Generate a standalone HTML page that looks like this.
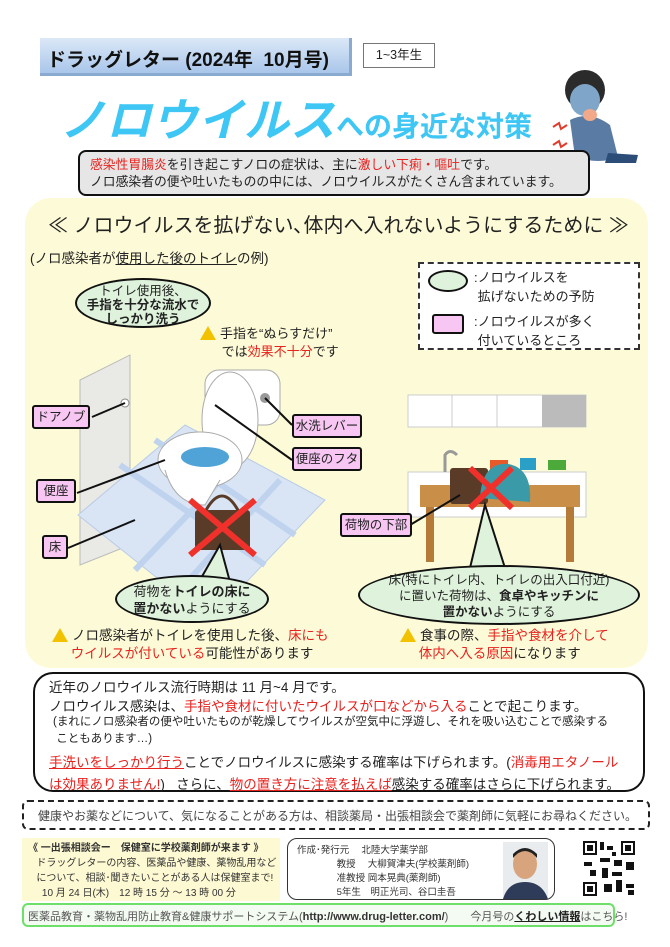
<!DOCTYPE html>
<html><head><meta charset="utf-8">
<style>
*{margin:0;padding:0;box-sizing:border-box}
body{width:670px;height:947px;background:#fff;position:relative;overflow:hidden;font-family:"Liberation Sans","Noto Sans CJK JP",sans-serif;color:#222}
.a{position:absolute;white-space:nowrap}
.r{color:#e8231f}
.pk{position:absolute;background:#f7c6f2;border:2.5px solid #111;border-radius:3px;font-size:12.5px;line-height:20px;text-align:center}
.gb{position:absolute;background:#dff3dc;border:2.5px solid #111;border-radius:50%;text-align:center;font-size:13px;line-height:17px}
.warn{display:inline-block;width:0;height:0;border-left:8px solid transparent;border-right:8px solid transparent;border-bottom:14px solid #f2c200;vertical-align:-2px;margin-right:4px;position:relative}
</style></head><body>

<!-- header -->
<div class="a" style="left:40px;top:38px;width:312px;height:38px;background:linear-gradient(#dbe8f7,#a9c6ea);border-right:3px solid #8aaad0;border-bottom:3px solid #8aaad0"></div>
<div class="a" style="left:47px;top:45px;font-size:19px;font-weight:bold;color:#111">ドラッグレター (2024年&nbsp; 10月号)</div>
<div class="a" style="left:363px;top:43px;width:72px;height:25px;border:1px solid #777;font-size:12.5px;line-height:23px;text-align:center">1~3年生</div>

<div class="a" style="left:60px;top:84px;font-size:45px;font-weight:bold;color:#3ec6f4;font-style:italic;letter-spacing:1px">ノロウイルス<span style="font-size:28px;font-style:normal;letter-spacing:0">への身近な対策</span></div>

<!-- person -->
<svg class="a" style="left:550px;top:65px" width="90" height="105">
<circle cx="35" cy="25" r="20" fill="#2b2b2b"/>
<ellipse cx="35" cy="35" rx="15" ry="16" fill="#7fa6c8"/>
<path d="M20 55 Q40 45 60 60 L68 92 Q50 100 25 92 Z" fill="#5a7ca4"/>
<ellipse cx="40" cy="50" rx="7" ry="6" fill="#f1a98a"/>
<path d="M58 88 L88 90 L86 98 L55 98 Z" fill="#2c4d78"/>
<path d="M3 62 l6 -4 l2 6 l6 -4 M3 80 l6 -4 l2 6 l6 -4" stroke="#e43a2a" stroke-width="2" fill="none"/>
</svg>

<!-- gray box -->
<div class="a" style="left:78px;top:150px;width:512px;height:46px;background:#e6e6e6;border:2.5px solid #111;border-radius:8px"></div>
<div class="a" style="left:90px;top:156px;font-size:12.8px;line-height:17px"><span class="r">感染性胃腸炎</span>を引き起こすノロの症状は、主に<span class="r">激しい下痢・嘔吐</span>です。<br>ノロ感染者の便や吐いたものの中には、ノロウイルスがたくさん含まれています。</div>

<!-- yellow panel -->
<div class="a" style="left:25px;top:198px;width:623px;height:470px;background:#fdfbd7;border-radius:26px"></div>
<div class="a" style="left:48px;top:209px;font-size:20px">≪ ノロウイルスを拡げない､体内へ入れないようにするために ≫</div>
<div class="a" style="left:30px;top:247px;font-size:13.5px">(ノロ感染者が<u>使用した後のトイレ</u>の例)</div>

<!-- legend -->
<div class="a" style="left:418px;top:262px;width:222px;height:88px;border:2px dashed #333;background:#fff"></div>
<div class="a" style="left:428px;top:270px;width:40px;height:22px;background:#dff3dc;border:2.5px solid #111;border-radius:50%"></div>
<div class="a" style="left:474px;top:268px;font-size:13px;line-height:19px">:ノロウイルスを<br>&nbsp;拡げないための予防</div>
<div class="a" style="left:432px;top:314px;width:32px;height:20px;background:#f7c6f2;border:2.5px solid #111;border-radius:3px"></div>
<div class="a" style="left:474px;top:312px;font-size:13px;line-height:19px">:ノロウイルスが多く<br>&nbsp;付いているところ</div>

<!-- toilet scene -->
<svg class="a" style="left:25px;top:320px" width="340" height="320">
<polygon points="55,60 105,35 105,225 55,245" fill="#e9e9e6" stroke="#bbb"/>
<polygon points="53,195 160,105 300,180 185,300" fill="#d9e5f5" stroke="#b9cbe6"/>
<path d="M95 145 L240 245 M130 120 L270 215 M110 250 L215 140 M150 275 L255 160" stroke="#bfd2ee" stroke-width="6"/>
<rect x="180" y="50" width="75" height="55" rx="14" fill="#fff" stroke="#aaa"/>
<ellipse cx="205" cy="100" rx="28" ry="48" fill="#fff" stroke="#aaa"/>
<ellipse cx="175" cy="140" rx="42" ry="28" fill="#fff" stroke="#aaa"/>
<ellipse cx="180" cy="137" rx="24" ry="10" fill="#4fa3d6"/>
<path d="M140 150 Q150 185 180 185 L195 160" fill="#fff" stroke="#aaa"/>
<circle cx="100" cy="83" r="4" fill="#fff" stroke="#888"/>
<circle cx="240" cy="78" r="5" fill="#999"/>
<rect x="170" y="190" width="55" height="40" rx="3" fill="#5a3b28"/>
<path d="M180 192 Q197 160 214 192" stroke="#5a3b28" stroke-width="3" fill="none"/>
<path d="M165 180 L230 235 M230 180 L165 235" stroke="#f0312b" stroke-width="6"/>
<line x1="67" y1="97" x2="100" y2="83" stroke="#111" stroke-width="2"/>
<line x1="267" y1="105" x2="240" y2="78" stroke="#111" stroke-width="2"/>
<line x1="267" y1="140" x2="190" y2="85" stroke="#111" stroke-width="2"/>
<line x1="52" y1="173" x2="140" y2="140" stroke="#111" stroke-width="2"/>
<line x1="43" y1="228" x2="110" y2="200" stroke="#111" stroke-width="2"/>
<polygon points="175,260 195,225 205,262" fill="#dff3dc" stroke="#111" stroke-width="2"/>
</svg>

<div class="gb" style="left:75px;top:278px;width:136px;height:50px;padding-top:4px;font-size:12.5px;line-height:14px">トイレ使用後、<br><b>手指を十分な流水で<br>しっかり洗う</b></div>
<div class="a" style="left:200px;top:325px;font-size:13px;line-height:18px"><span class="warn"></span>手指を“ぬらすだけ”<br>&nbsp;&nbsp;&nbsp;&nbsp;&nbsp;&nbsp;では<span class="r">効果不十分</span>です</div>

<div class="pk" style="left:32px;top:405px;width:58px">ドアノブ</div>
<div class="pk" style="left:292px;top:414px;width:70px">水洗レバー</div>
<div class="pk" style="left:292px;top:447px;width:70px">便座のフタ</div>
<div class="pk" style="left:36px;top:479px;width:40px">便座</div>
<div class="pk" style="left:42px;top:535px;width:26px">床</div>

<div class="gb" style="left:115px;top:575px;width:154px;height:48px;padding-top:6px">荷物を<b>トイレの床に<br>置かない</b>ようにする</div>
<div class="a" style="left:52px;top:627px;font-size:13.5px;line-height:18px"><span class="warn"></span>ノロ感染者がトイレを使用した後、<span class="r">床にも</span><br>&nbsp;&nbsp;&nbsp;&nbsp;&nbsp;<span class="r">ウイルスが付いている</span>可能性があります</div>

<!-- kitchen -->
<svg class="a" style="left:400px;top:390px" width="200" height="180">
<rect x="8" y="5" width="178" height="32" fill="#fff" stroke="#ccc"/>
<rect x="142" y="5" width="44" height="32" fill="#bbb"/>
<line x1="52" y1="5" x2="52" y2="37" stroke="#ccc"/><line x1="97" y1="5" x2="97" y2="37" stroke="#ccc"/>
<rect x="8" y="82" width="178" height="45" fill="#fff" stroke="#ccc"/>
<path d="M45 82 L45 65 Q50 58 57 65" stroke="#999" stroke-width="3" fill="none"/>
<rect x="90" y="70" width="18" height="10" fill="#e85a2a"/><rect x="120" y="68" width="16" height="12" fill="#2aa0c8"/><rect x="148" y="70" width="18" height="10" fill="#4caa3a"/>
<rect x="20" y="95" width="160" height="22" fill="#c98e48"/>
<rect x="26" y="117" width="8" height="55" fill="#b57a38"/><rect x="166" y="117" width="8" height="55" fill="#b57a38"/>
<rect x="50" y="78" width="38" height="36" rx="3" fill="#5a3b28"/>
<path d="M80 108 Q82 72 108 74 Q132 78 130 112 Z" fill="#3a9aa8"/>
<path d="M70 78 L112 118 M112 78 L70 118" stroke="#f0312b" stroke-width="6"/>
<line x1="10" y1="135" x2="60" y2="105" stroke="#111" stroke-width="2"/>
<polygon points="70,178 85,115 105,178" fill="#dff3dc" stroke="#111" stroke-width="2"/>
</svg>
<div class="pk" style="left:340px;top:513px;width:72px">荷物の下部</div>
<div class="gb" style="left:358px;top:565px;width:282px;height:60px;padding-top:5px;font-size:12.5px;line-height:16px">床(特にトイレ内、トイレの出入口付近)<br>に置いた荷物は、<b>食卓やキッチンに<br>置かない</b>ようにする</div>
<div class="a" style="left:400px;top:627px;font-size:13.5px;line-height:18px"><span class="warn"></span>食事の際、<span class="r">手指や食材を介して</span><br>&nbsp;&nbsp;&nbsp;&nbsp;&nbsp;<span class="r">体内へ入る原因</span>になります</div>

<!-- info box -->
<div class="a" style="left:33px;top:672px;width:612px;height:120px;border:2.5px solid #111;border-radius:20px"></div>
<div class="a" style="left:49px;top:678px;font-size:13.5px;line-height:19px">近年のノロウイルス流行時期は 11 月~4 月です。<br>ノロウイルス感染は、<span class="r">手指や食材に付いたウイルスが口などから入る</span>ことで起こります。</div>
<div class="a" style="left:53px;top:714px;font-size:11.5px;line-height:17px">(まれにノロ感染者の便や吐いたものが乾燥してウイルスが空気中に浮遊し、それを吸い込むことで感染する<br>&nbsp;こともあります…)</div>
<div class="a" style="left:49px;top:752px;font-size:13.5px;line-height:22px"><u class="r">手洗いをしっかり行う</u>ことでノロウイルスに感染する確率は下げられます。(<span class="r">消毒用エタノール</span><br><span class="r">は効果ありません!</span>)&nbsp;&nbsp; さらに、<u class="r">物の置き方に注意を払えば</u>感染する確率はさらに下げられます。</div>

<div class="a" style="left:22px;top:800px;width:628px;height:30px;border:2px dashed #222;border-radius:6px"></div>
<div class="a" style="left:38px;top:807px;font-size:12px;color:#444">健康やお薬などについて、気になることがある方は、相談薬局・出張相談会で薬剤師に気軽にお尋ねください。</div>

<div class="a" style="left:22px;top:838px;width:258px;height:63px;background:#fdf9d3"></div>
<div class="a" style="left:28px;top:841px;font-size:10px;line-height:15px;color:#333"><b>《 一出張相談会ー　保健室に学校薬剤師が来ます 》</b><br>&nbsp;&nbsp;&nbsp;ドラッグレターの内容、医薬品や健康、薬物乱用など<br>&nbsp;&nbsp;&nbsp;について、相談･聞きたいことがある人は保健室まで!<br>&nbsp;&nbsp;&nbsp;&nbsp;&nbsp;10 月 24 日(木)　12 時 15 分 ～ 13 時 00 分</div>

<div class="a" style="left:287px;top:838px;width:268px;height:62px;border:1.5px solid #333;border-radius:10px"></div>
<div class="a" style="left:297px;top:844px;font-size:9.5px;line-height:14px;color:#333">作成･発行元　 北陸大学薬学部<br>&nbsp;&nbsp;&nbsp;&nbsp;&nbsp;&nbsp;&nbsp;&nbsp;&nbsp;&nbsp;&nbsp;&nbsp;&nbsp;&nbsp;&nbsp;教授　 大柳賀津夫(学校薬剤師)<br>&nbsp;&nbsp;&nbsp;&nbsp;&nbsp;&nbsp;&nbsp;&nbsp;&nbsp;&nbsp;&nbsp;&nbsp;&nbsp;&nbsp;&nbsp;准教授 岡本晃典(薬剤師)<br>&nbsp;&nbsp;&nbsp;&nbsp;&nbsp;&nbsp;&nbsp;&nbsp;&nbsp;&nbsp;&nbsp;&nbsp;&nbsp;&nbsp;&nbsp;5年生　明正光司、谷口圭吾</div>
<svg class="a" style="left:503px;top:842px" width="45" height="57"><rect width="45" height="57" fill="#e8ecef"/><ellipse cx="22" cy="22" rx="12" ry="15" fill="#d8a47e"/><path d="M10 16 Q22 2 34 16 L34 12 Q22 0 10 12Z" fill="#222"/><path d="M0 57 Q5 40 22 40 Q39 40 45 57Z" fill="#2e3c5a"/></svg>

<svg class="a" style="left:582px;top:840px" width="54" height="57">
<rect width="54" height="57" fill="#fff"/>
<g fill="#111"><rect x="1" y="1" width="14" height="14"/><rect x="39" y="1" width="14" height="14"/><rect x="1" y="42" width="14" height="14"/></g>
<g fill="#fff"><rect x="3" y="3" width="10" height="10"/><rect x="41" y="3" width="10" height="10"/><rect x="3" y="44" width="10" height="10"/></g>
<g fill="#111"><rect x="5" y="5" width="6" height="6"/><rect x="43" y="5" width="6" height="6"/><rect x="5" y="46" width="6" height="6"/>
<rect x="18" y="2" width="4" height="8"/><rect x="25" y="6" width="6" height="4"/><rect x="18" y="18" width="10" height="4"/><rect x="32" y="20" width="8" height="6"/><rect x="2" y="22" width="8" height="4"/><rect x="44" y="22" width="8" height="8"/><rect x="20" y="28" width="6" height="10"/><rect x="30" y="32" width="10" height="4"/><rect x="8" y="30" width="6" height="6"/><rect x="22" y="44" width="8" height="8"/><rect x="34" y="40" width="6" height="12"/><rect x="44" y="44" width="8" height="4"/><rect x="46" y="50" width="6" height="5"/><rect x="30" y="12" width="4" height="4"/></g>
</svg>

<div class="a" style="left:22px;top:903px;width:593px;height:24px;border:2px solid #6ee06a;border-radius:6px;background:#f4fbf2"></div>
<div class="a" style="left:28px;top:908px;font-size:11px;color:#555">医薬品教育・薬物乱用防止教育&amp;健康サポートシステム(<b style="color:#333">http://www.drug-letter.com/</b>)　　今月号の<u style="color:#222"><b>くわしい情報</b></u>はこちら!</div>
</body></html>
